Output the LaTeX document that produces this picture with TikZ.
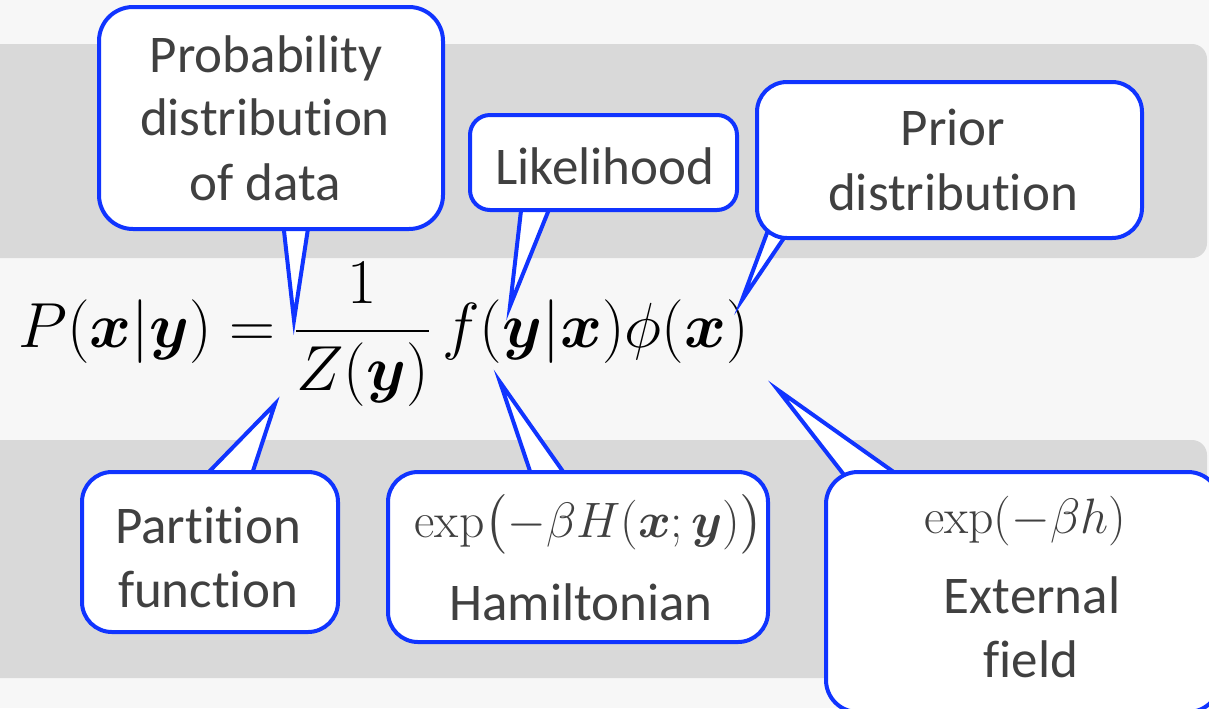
\documentclass[tikz,border=0pt]{standalone}
\usepackage{amsmath}
\usepackage{bm}
\usepackage[no-math]{fontspec}
\setmainfont[Ligatures=NoCommon]{Carlito}
\definecolor{bgc}{HTML}{F7F7F7}
\definecolor{band}{HTML}{D9D9D9}
\definecolor{cblue}{HTML}{1034FF}
\definecolor{tgray}{HTML}{404040}
\tikzset{
  bandbox/.style={fill=band, draw=none, rounded corners=7.5pt},
  callbox/.style={draw=cblue, line width=2pt, fill=white, inner sep=0pt},
  ptr/.style={draw=cblue, line width=2pt, fill=white, line join=miter, miter limit=20},
  lbl/.style={anchor=base, inner sep=0pt, text=tgray, font=\fontsize{26.5}{32}\selectfont},
  mlbl/.style={anchor=base, inner sep=0pt, text=tgray, font=\fontsize{24}{30}\selectfont},
}
\begin{document}
\begin{tikzpicture}[x=0.5pt,y=-0.5pt]
\clip (0,0) rectangle (1209,708);
\fill[bgc] (0,0) rectangle (1209,708);
% bands
\path[bandbox] (-40,44) rectangle (1207,258);
\path[bandbox] (-40,440) rectangle (1207,678);
% main equation
\node[anchor=base west, inner sep=0pt, font=\fontsize{24.88}{30}\selectfont] (eq) at (18,347)
  {\scalebox{1.28}{$\displaystyle P(\bm{x}|\bm{y}) = \frac{1}{Z(\bm{y})}\,f(\bm{y}|\bm{x})\phi(\bm{x})$}};
% pointer tips
\coordinate (t1) at (294,320);
\coordinate (t2) at (510,306);
\coordinate (t3) at (742,300);
\coordinate (t4) at (275,404);
\coordinate (t5) at (500,382);
\coordinate (t6) at (778,390);
% pointers
\draw[ptr] (283,222) -- (t1) -- (309,222) -- cycle;
\draw[ptr] (522,202) -- (t2) -- (552,202) -- cycle;
\draw[ptr] (770,225) -- (t3) -- (788,232) -- cycle;
\draw[ptr] (201,480) -- (t4) -- (250,480) -- cycle;
\draw[ptr] (533,480) -- (t5) -- (569,480) -- cycle;
\draw[ptr] (848,480) -- (t6) -- (905,480) -- cycle;
% boxes
\node[callbox, rounded corners=17pt, minimum width=172pt, minimum height=111pt] (prob) at (271,118) {};
\node[callbox, rounded corners=10pt, minimum width=133.5pt, minimum height=47.5pt] (lik) at (603.5,162.5) {};
\node[callbox, rounded corners=15pt, minimum width=192.5pt, minimum height=78pt] (prior) at (949.5,160) {};
\node[callbox, rounded corners=15pt, minimum width=128pt, minimum height=80pt] (part) at (210,552) {};
\node[callbox, rounded corners=15pt, minimum width=190pt, minimum height=85pt] (ham) at (578,557) {};
\node[callbox, rounded corners=16pt, minimum width=197pt, minimum height=120pt] (ext) at (1023,592) {};
% texts
\node[lbl] (p1) at (266,72) {Probability};
\node[lbl] (p2) at (265,135) {distribution};
\node[lbl] (p3) at (265,200) {of data};
\node[lbl] (l1) at (605,184) {Likelihood};
\node[lbl] (r1) at (953,145) {Prior};
\node[lbl] (r2) at (953,210) {distribution};
\node[lbl] (a1) at (208,543) {Partition};
\node[lbl] (a2) at (208,607) {function};
\node[mlbl] (h1) at (589,537) {$\exp\bigl(-\beta H(\bm{x};\bm{y})\bigr)$};
\node[lbl] (h2) at (581,620) {Hamiltonian};
\node[mlbl] (e1) at (1025,533) {$\exp(-\beta h)$};
\node[lbl] (e2) at (1032,613) {External};
\node[lbl] (e3) at (1031,677) {field};
\end{tikzpicture}
\end{document}
